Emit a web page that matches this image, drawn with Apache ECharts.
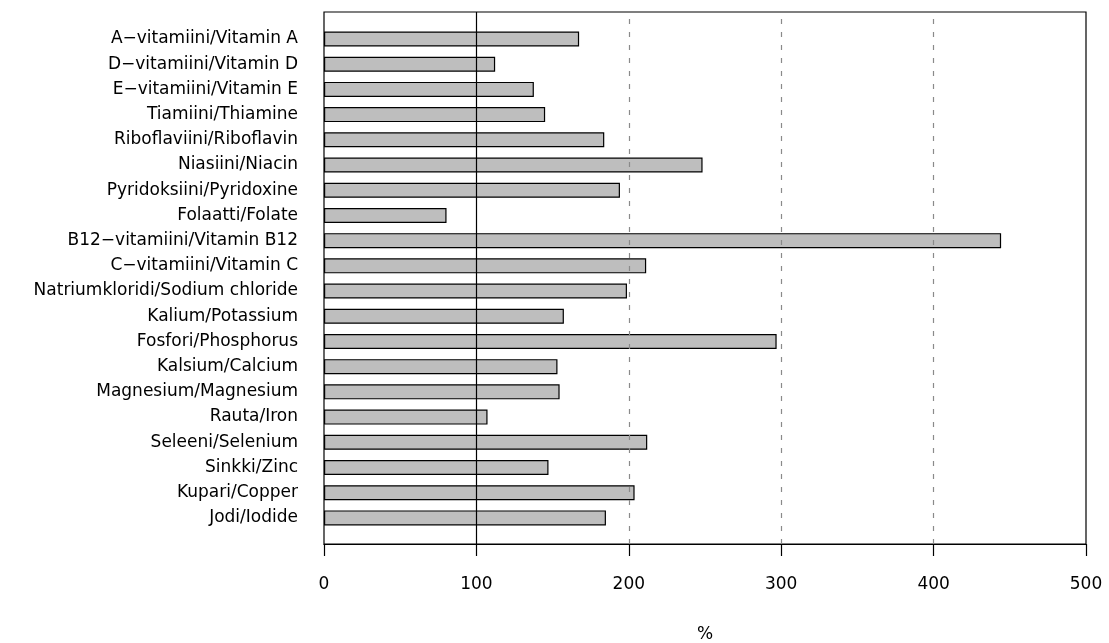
<!DOCTYPE html>
<html>
<head>
<meta charset="utf-8">
<script src="https://cdn.jsdelivr.net/npm/echarts@6/dist/echarts.min.js"></script>
<style>
html,body{margin:0;padding:0;background:#fff;}
#chart{width:1109px;height:643px;}
</style>
</head>
<body>
<div id="chart"></div>
<script>
const categories = ['A−vitamiini/Vitamin A', 'D−vitamiini/Vitamin D', 'E−vitamiini/Vitamin E', 'Tiamiini/Thiamine', 'Riboflaviini/Riboflavin', 'Niasiini/Niacin', 'Pyridoksiini/Pyridoxine', 'Folaatti/Folate', 'B12−vitamiini/Vitamin B12', 'C−vitamiini/Vitamin C', 'Natriumkloridi/Sodium chloride', 'Kalium/Potassium', 'Fosfori/Phosphorus', 'Kalsium/Calcium', 'Magnesium/Magnesium', 'Rauta/Iron', 'Seleeni/Selenium', 'Sinkki/Zinc', 'Kupari/Copper', 'Jodi/Iodide'];
const values = [167.4, 112.3, 137.7, 145.1, 183.9, 248.4, 194.2, 80.4, 444.3, 211.4, 198.8, 157.4, 297.0, 153.2, 154.6, 107.3, 212.1, 147.3, 203.8, 185.0];
const xTicks = [0, 100, 200, 300, 400, 500];
const dashedRefs = [200, 300, 400];
const solidRefs = [100];
const axisName = '%';

const FONT = 'DejaVu Sans';
const chart = echarts.init(document.getElementById('chart'), null, {renderer: 'canvas'});
chart.setOption({
  animation: false,
  backgroundColor: '#fff',
  textStyle: {fontFamily: FONT},
  grid: [
    {left: 324, right: 23, top: 12, bottom: 99, show: true, borderColor: '#000', borderWidth: 1.2, backgroundColor: 'transparent', containLabel: false, outerBoundsMode: 'none'},
    {left: 324, right: 23, top: 26.4, bottom: 112.5, containLabel: false, outerBoundsMode: 'none'}
  ],
  xAxis: [
    {
      gridIndex: 0, type: 'value', min: xTicks[0], max: xTicks[xTicks.length - 1], interval: 100,
      axisLine: {show: true, lineStyle: {color: '#000', width: 1.2}},
      axisTick: {show: true, length: 12, lineStyle: {color: '#000', width: 1.2}},
      axisLabel: {show: true, margin: 32, fontSize: 17, color: '#000', fontFamily: FONT},
      splitLine: {show: false},
      name: axisName, nameLocation: 'middle', nameGap: 82,
      nameTextStyle: {fontSize: 17, color: '#000', fontFamily: FONT}
    },
    {gridIndex: 1, type: 'value', min: 0, max: 500, show: false}
  ],
  yAxis: [
    {gridIndex: 0, type: 'value', min: 0, max: 1, show: false},
    {
      gridIndex: 1, type: 'category', data: categories, inverse: true,
      axisLine: {show: false}, axisTick: {show: false},
      axisLabel: {show: true, margin: 26, fontSize: 17, color: '#000', fontFamily: FONT},
      splitLine: {show: false}
    }
  ],
  series: [
    {
      type: 'line', xAxisIndex: 0, yAxisIndex: 0, data: [[0, 0]], showSymbol: false,
      lineStyle: {width: 0}, z: 1, silent: true,
      markLine: {
        silent: true, symbol: 'none', label: {show: false},
        lineStyle: {color: '#8a8a8a', type: [5, 8], width: 1.2},
        data: dashedRefs.map(v => ({xAxis: v}))
      }
    },
    {
      type: 'bar', xAxisIndex: 1, yAxisIndex: 1, data: values, barWidth: 15, z: 2,
      itemStyle: {color: '#bebebe', borderColor: '#000', borderWidth: 1.2}
    },
    {
      type: 'line', xAxisIndex: 0, yAxisIndex: 0, data: [[0, 0]], showSymbol: false,
      lineStyle: {width: 0}, z: 5, silent: true,
      markLine: {
        silent: true, symbol: 'none', label: {show: false},
        lineStyle: {color: '#000', type: 'solid', width: 1.2},
        data: solidRefs.map(v => ({xAxis: v}))
      }
    }
  ]
});
</script>
</body>
</html>
